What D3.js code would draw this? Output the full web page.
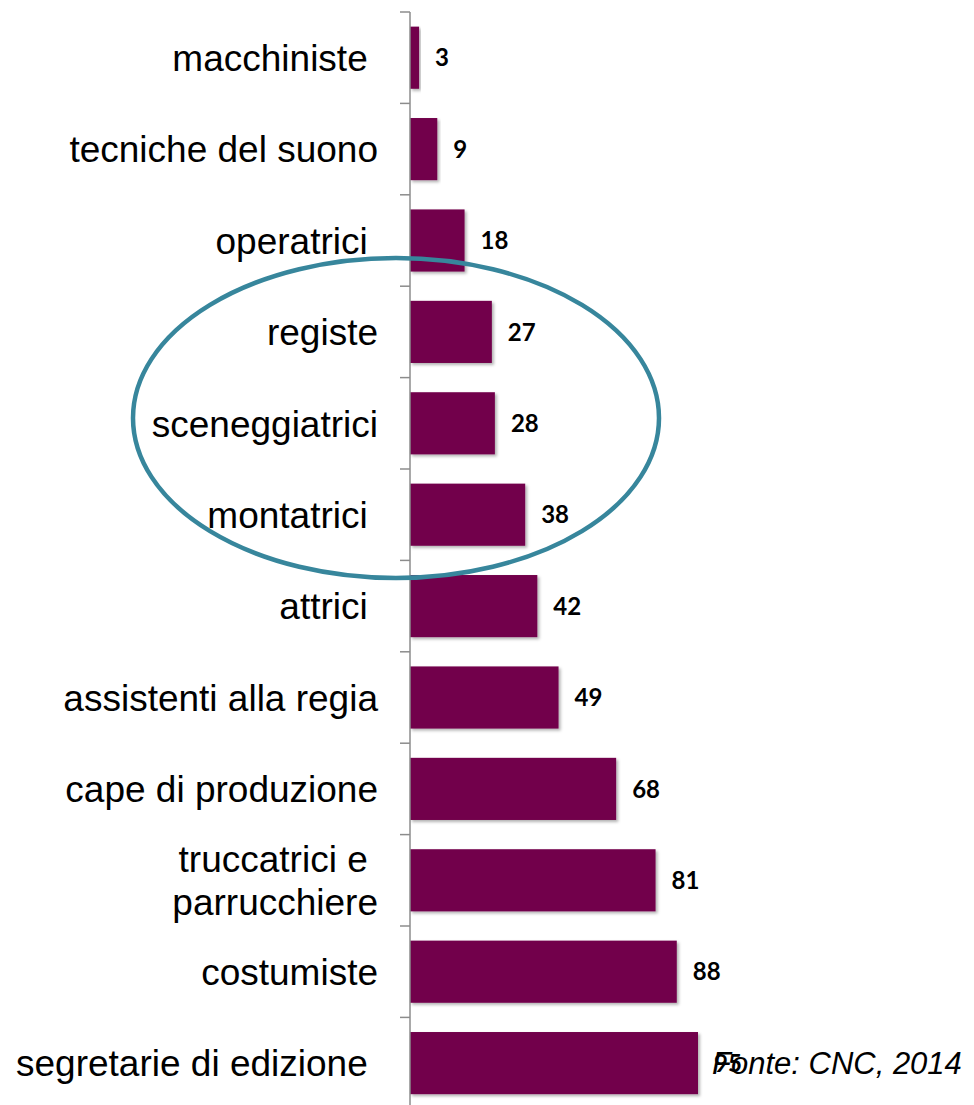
<!DOCTYPE html>
<html>
<head>
<meta charset="utf-8">
<script src="https://cdn.jsdelivr.net/npm/d3@7"></script>
<style>
  body { margin: 0; background: #fff; }
  svg { display: block; }
</style>
</head>
<body>
<div id="chart"></div>
<script>
// trailing non-breaking spaces keep the original labels' offsets
const categories = [
  "macchiniste\u00a0",
  "tecniche del suono",
  "operatrici\u00a0",
  "registe",
  "sceneggiatrici",
  "montatrici\u00a0",
  "attrici\u00a0",
  "assistenti alla regia",
  "cape di produzione",
  "truccatrici e\u00a0|parrucchiere",
  "costumiste",
  "segretarie di edizione\u00a0"
];
const values = [3, 9, 18, 27, 28, 38, 42, 49, 68, 81, 88, 95];
const sourceNote = "Fonte: CNC, 2014";

const width = 974, height = 1105;
const axisX = 410;
const barColor = "#72004b";
const axisColor = "#8c8c8c";

const svg = d3.select("#chart")
  .append("svg")
  .attr("width", width)
  .attr("height", height);

const defs = svg.append("defs");
const shadow = defs.append("filter")
  .attr("id", "shadow")
  .attr("x", "-5%").attr("y", "-10%")
  .attr("width", "115%").attr("height", "130%");
shadow.append("feDropShadow")
  .attr("dx", 2).attr("dy", 2)
  .attr("stdDeviation", 1.5)
  .attr("flood-color", "#000")
  .attr("flood-opacity", 0.3);

const x = d3.scaleLinear()
  .domain([0, 95])
  .range([axisX, 698]);

const y = d3.scaleBand()
  .domain(categories)
  .range([12, 12 + 91.4 * categories.length])
  .paddingInner(0.32)
  .paddingOuter(0.16);

// bars
svg.append("g")
  .selectAll("rect")
  .data(values)
  .enter()
  .append("rect")
  .attr("x", x(0))
  .attr("y", (d, i) => y(categories[i]))
  .attr("width", d => x(d) - x(0))
  .attr("height", y.bandwidth())
  .attr("fill", barColor)
  .attr("filter", "url(#shadow)");

// axis with ticks between the bands
const step = y.step();
const tickYs = d3.range(categories.length + 1).map(i => 12 + i * step);
const axis = svg.append("g").attr("stroke", axisColor).attr("stroke-width", 1.5);
axis.append("line")
  .attr("x1", axisX).attr("x2", axisX)
  .attr("y1", 12).attr("y2", height + 5);
axis.selectAll("line.tick")
  .data(tickYs)
  .enter()
  .append("line")
  .attr("class", "tick")
  .attr("x1", axisX - 10).attr("x2", axisX)
  .attr("y1", d => d).attr("y2", d => d);

// category labels
const labels = svg.append("g")
  .attr("font-family", "'Liberation Sans', Arial, sans-serif")
  .attr("font-size", 37)
  .attr("fill", "#000")
  .attr("text-anchor", "end");

categories.forEach(c => {
  const lines = c.split("|");
  const cy = y(c) + y.bandwidth() / 2;
  const lh = 43;
  const t = labels.append("text")
    .attr("x", axisX - 32)
    .attr("y", cy - (lines.length - 1) * lh / 2);
  lines.forEach((l, j) => {
    t.append("tspan")
      .attr("x", axisX - 32)
      .attr("dy", j === 0 ? "0.36em" : lh)
      .text(l);
  });
});

// value labels
svg.append("g")
  .attr("font-family", "Lato, 'Open Sans', sans-serif")
  .attr("font-weight", "bold")
  .attr("font-size", 24)
  .selectAll("text")
  .data(values)
  .enter()
  .append("text")
  .attr("x", d => x(d) + 16)
  .attr("y", (d, i) => y(categories[i]) + y.bandwidth() / 2)
  .attr("dy", "0.36em")
  .text(d => d);

// highlight ellipse
svg.append("ellipse")
  .attr("cx", 396)
  .attr("cy", 418)
  .attr("rx", 263)
  .attr("ry", 160)
  .attr("fill", "none")
  .attr("stroke", "#37869c")
  .attr("stroke-width", 4.5);

// source
svg.append("text")
  .attr("x", 712)
  .attr("y", y(categories[11]) + y.bandwidth() / 2)
  .attr("dy", "0.36em")
  .attr("font-family", "'Liberation Sans', Arial, sans-serif")
  .attr("font-style", "italic")
  .attr("font-size", 31)
  .text(sourceNote);
</script>
</body>
</html>
